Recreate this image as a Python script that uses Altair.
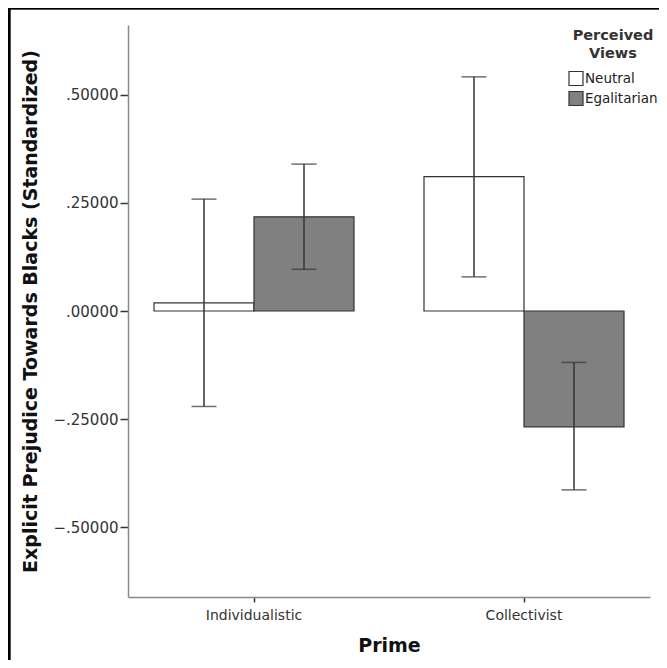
import altair as alt
import pandas as pd

primes = ["Individualistic", "Individualistic", "Collectivist", "Collectivist"]
views = ["Neutral", "Egalitarian", "Neutral", "Egalitarian"]
means = [0.019, 0.218, 0.311, -0.268]
ci_low = [-0.221, 0.0965, 0.079, -0.414]
ci_high = [0.259, 0.340, 0.542, -0.119]

prime_order = ["Individualistic", "Collectivist"]
view_order = ["Neutral", "Egalitarian"]
view_colors = ["#ffffff", "#808080"]
y_ticks = [-0.5, -0.25, 0, 0.25, 0.5]

df = pd.DataFrame({"Prime": primes, "View": views, "Mean": means, "Lo": ci_low, "Hi": ci_high})

FONT = "DejaVu Sans"
W, H = 522, 572

x_enc = alt.X("Prime:N", sort=prime_order,
              scale=alt.Scale(paddingInner=70 / 270, paddingOuter=26 / 270),
              axis=alt.Axis(title="Prime", labelAngle=0, labelFontSize=14, labelColor="#333",
                            labelPadding=6, tickSize=5, tickColor="#333", tickWidth=1.5,
                            domainColor="#8a8a8a", domainWidth=1.5,
                            titleFontSize=19, titleFontWeight="bold", titleColor="#111",
                            titlePadding=14))
xo_enc = alt.XOffset("View:N", sort=view_order, scale=alt.Scale(paddingInner=0, paddingOuter=0))
y_scale = alt.Scale(domain=[-0.662, 0.662], nice=False, zero=False)

bars = alt.Chart(df).mark_bar(stroke="#333", strokeWidth=1.2).encode(
    x=x_enc,
    xOffset=xo_enc,
    y=alt.Y("Mean:Q", scale=y_scale,
            axis=alt.Axis(title="Explicit Prejudice Towards Blacks (Standardized)",
                          values=y_ticks,
                          labelExpr="replace(format(datum.value, '.5f'), '0.', '.')",
                          labelFontSize=15, labelColor="#333", labelPadding=2,
                          tickSize=8, tickColor="#333", tickWidth=1.5,
                          domainColor="#8a8a8a", domainWidth=1.5, grid=False,
                          titleFontSize=19, titleFontWeight="bold", titleColor="#111",
                          titlePadding=12)),
    y2=alt.datum(0),
    fill=alt.Fill("View:N", sort=view_order,
                  scale=alt.Scale(domain=view_order, range=view_colors),
                  legend=alt.Legend(title=["Perceived", "Views"], orient="none",
                                    legendX=440, legendY=4,
                                    titleFontSize=14.5, titleFontWeight="bold", titleColor="#333",
                                    titleAlign="center", titleAnchor="middle", titleLineHeight=18,
                                    labelFontSize=13.5, labelColor="#222", labelOffset=1,
                                    symbolType="square", symbolSize=196,
                                    symbolStrokeColor="#333", symbolStrokeWidth=1.2,
                                    rowPadding=0, titlePadding=9)),
)

rules = alt.Chart(df).mark_rule(color="#333", strokeWidth=1.5).encode(
    x=alt.X("Prime:N", sort=prime_order), xOffset=alt.XOffset("View:N", sort=view_order),
    y=alt.Y("Lo:Q", scale=y_scale), y2="Hi:Q")
cap_lo = alt.Chart(df).mark_tick(color="#333", thickness=1.5, size=25).encode(
    x=alt.X("Prime:N", sort=prime_order), xOffset=alt.XOffset("View:N", sort=view_order),
    y=alt.Y("Lo:Q", scale=y_scale))
cap_hi = alt.Chart(df).mark_tick(color="#333", thickness=1.5, size=25).encode(
    x=alt.X("Prime:N", sort=prime_order), xOffset=alt.XOffset("View:N", sort=view_order),
    y=alt.Y("Hi:Q", scale=y_scale))

frame_top = alt.Chart(df).mark_rule(color="#000", strokeWidth=2.5, clip=False).encode(
    x=alt.value(-119), x2=alt.value(531), y=alt.value(-17))
frame_left = alt.Chart(df).mark_rule(color="#000", strokeWidth=2.5, clip=False).encode(
    x=alt.value(-119), y=alt.value(-17), y2=alt.value(700))

chart = alt.layer(bars, rules, cap_lo, cap_hi, frame_top, frame_left).properties(
    width=W, height=H,
    autosize=alt.AutoSizeParams(type="none"),
    padding={"left": 120, "top": 17, "right": 9, "bottom": 63},
).configure(font=FONT, background="white").configure_view(stroke=None)

chart.save("out.html", embed_options={"renderer": "svg", "actions": False})
